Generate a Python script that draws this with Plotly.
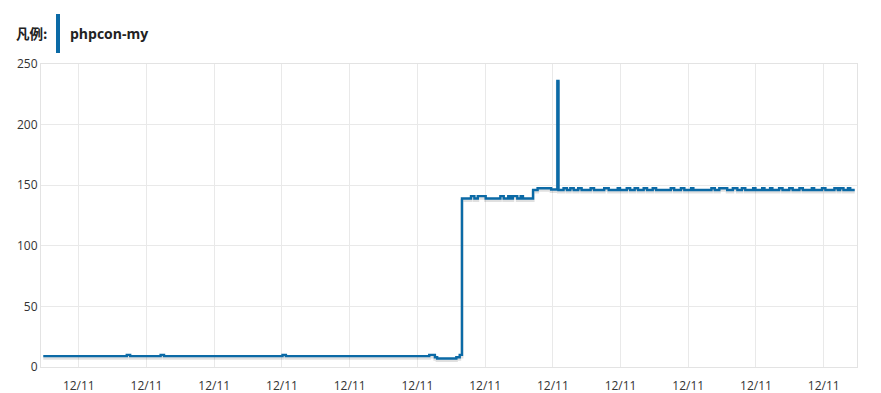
import plotly.graph_objects as go

# Step series (time in minutes from start, value at that step, held until next step)
step_t = [0, 74, 77, 104, 107, 212, 215, 342, 347, 349, 366, 369, 371,
          379, 382, 385, 392, 405, 408, 412, 414, 416, 420, 423, 425,
          434, 438, 450, 455.5, 456.5,
          461, 464, 467, 470, 474, 477, 485, 488, 497, 501, 509, 511,
          517, 520, 524, 527, 532, 535, 540, 543, 556, 559, 565, 568,
          574, 576, 592, 595, 599, 606, 611, 615, 619, 622, 629, 631,
          637, 639, 644, 646, 652, 655, 661, 664, 670, 673, 681, 683,
          690, 693, 701, 704, 706, 709, 713, 715, 719]
step_v = [9, 10, 9, 10, 9, 10, 9, 10, 8, 7, 8, 10, 139,
          141, 139, 141, 139, 141, 139, 141, 139, 141, 139, 141, 139,
          146, 147.5, 146.5, 236, 146,
          147.5, 146, 147.5, 146, 147.5, 146, 147.5, 146, 147.5, 146, 147.5, 146,
          147.5, 146, 147.5, 146, 147.5, 146, 147.5, 146, 147.5, 146, 147.5, 146,
          147.5, 146, 147.5, 146, 147.5, 146, 147.5, 146, 147.5, 146, 147.5, 146,
          147.5, 146, 147.5, 146, 147.5, 146, 147.5, 146, 147.5, 146, 147.5, 146,
          147.5, 146, 147.5, 146, 147.5, 146, 147.5, 146, 146]

tick_t = [31.5 + 60 * k for k in range(12)]
tick_labels = ["12/11"] * 12
y_ticks = [0, 50, 100, 150, 200, 250]
series_name = "phpcon-my"
legend_title = "凡例:"

line_color = "#0b6aa6"
shadow_offset = 1.7  # visual drop shadow (units)

fig = go.Figure()
fig.add_trace(go.Scatter(
    x=step_t, y=[v - shadow_offset for v in step_v], mode="lines",
    line=dict(shape="hv", color="rgba(0,0,0,0.12)", width=3),
    hoverinfo="skip", showlegend=False))
fig.add_trace(go.Scatter(
    x=step_t, y=step_v, mode="lines", name=series_name,
    line=dict(shape="hv", color=line_color, width=2.4),
    showlegend=False))

axis_font = dict(family="Open Sans, Noto Sans, sans-serif", size=12, color="#333333")
fig.update_layout(
    width=881, height=393,
    margin=dict(l=41, r=24, t=64, b=26, autoexpand=False),
    paper_bgcolor="white", plot_bgcolor="white",
    font=axis_font,
    xaxis=dict(range=[-2, 721], tickvals=tick_t, ticktext=tick_labels,
               showgrid=True, gridcolor="#e9e9e9", gridwidth=1,
               showline=True, linecolor="#e3e3e3", linewidth=1, mirror=True,
               zeroline=False, ticks="outside", ticklen=8, tickcolor="rgba(0,0,0,0)",
               automargin=False, tickfont=axis_font),
    yaxis=dict(range=[0, 250], tickvals=y_ticks,
               showgrid=True, gridcolor="#e9e9e9", gridwidth=1,
               showline=True, linecolor="#e3e3e3", linewidth=1, mirror=True,
               zeroline=False, ticks="", automargin=False, tickfont=axis_font),
    annotations=[
        dict(xref="paper", yref="paper", x=-27/816, y=1 + 31/303, xanchor="left",
             yanchor="middle", showarrow=False, text="<b>" + legend_title + "</b>",
             font=dict(family="Noto Sans CJK JP, Noto Sans, sans-serif", size=13.5, color="#222222")),
        dict(xref="paper", yref="paper", x=27/816, y=1 + 31/303, xanchor="left",
             yanchor="middle", showarrow=False, text="<b>" + series_name + "</b>",
             font=dict(family="Open Sans, Noto Sans, sans-serif", size=14, color="#222222")),
    ],
    shapes=[dict(type="rect", xref="paper", yref="paper",
                 x0=15/816, x1=19/816, y0=1 + 11/303, y1=1 + 50/303,
                 fillcolor=line_color, line=dict(width=0))],
)

fig.write_html("out.html")
